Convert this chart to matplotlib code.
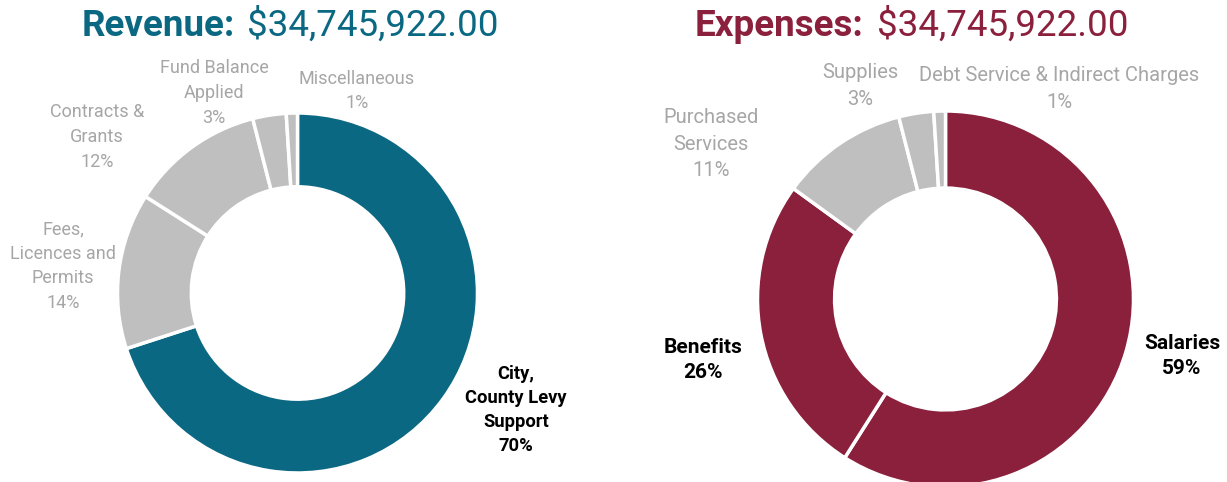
import matplotlib
matplotlib.use("Agg")
import matplotlib.pyplot as plt

# Revenue breakdown (percent of total)
rev_labels = ["City,\nCounty Levy\nSupport", "Fees,\nLicences and\nPermits",
              "Contracts &\nGrants", "Fund Balance\nApplied", "Miscellaneous"]
rev_values = [70, 14, 12, 3, 1]

# Expense breakdown (percent of total)
exp_labels = ["Salaries", "Benefits", "Purchased\nServices", "Supplies",
              "Debt Service & Indirect Charges"]
exp_values = [59, 26, 11, 3, 1]

total_amount = "$34,745,922.00"

TEAL = "#0B6882"
MAROON = "#8B203D"
GRAY = "#BFBFBF"
LABEL_GRAY = "#A6A6A6"

plt.rcParams["font.family"] = ["Roboto", "DejaVu Sans"]

W, H = 1227, 482
fig = plt.figure(figsize=(W / 100, H / 100), dpi=100)
ax = fig.add_axes([0, 0, 1, 1])


def Y(y):
    return H - y


def donut(values, main_colors, center, radius, ring):
    colors = main_colors + [GRAY] * (len(values) - len(main_colors))
    ax.pie(values, colors=colors, startangle=90, counterclock=False,
           center=center, radius=radius, frame=True,
           wedgeprops=dict(width=radius * ring, edgecolor="white", linewidth=2.5))


donut(rev_values, [TEAL], (297.5, Y(293)), 180, 0.41)
donut(exp_values, [MAROON, MAROON], (945.5, Y(299)), 188, 0.41)
ax.set_xlim(0, W)
ax.set_ylim(0, H)
ax.set_aspect("equal")
ax.axis("off")

# Titles
ax.text(82, Y(26), "Revenue:", color=TEAL, fontsize=26.5, fontweight="bold",
        ha="left", va="center")
ax.text(247, Y(26), total_amount, color=TEAL, fontsize=26.5, ha="left", va="center")
ax.text(695, Y(26), "Expenses:", color=MAROON, fontsize=26.5, fontweight="bold",
        ha="left", va="center")
ax.text(877, Y(26), total_amount, color=MAROON, fontsize=26.5, ha="left", va="center")


def label(x, y, name, value, bold=False, size=13, ls=1.47):
    ax.text(x, Y(y), f"{name}\n{value}%", ha="center", va="center",
            fontsize=size, linespacing=ls,
            color="black" if bold else LABEL_GRAY,
            fontweight="bold" if bold else "normal")


# Revenue labels
label(516, 410, rev_labels[0], rev_values[0], bold=True, size=13.2, ls=1.42)
label(63, 266, rev_labels[1], rev_values[1])
label(97, 137, rev_labels[2], rev_values[2])
label(214, 93, rev_labels[3], rev_values[3])
label(357, 91, rev_labels[4], rev_values[4])

# Expense labels
label(1182, 356, exp_labels[0], exp_values[0], bold=True, size=15, ls=1.41)
label(703, 360, exp_labels[1], exp_values[1], bold=True, size=15, ls=1.41)
label(711, 144, exp_labels[2], exp_values[2], size=14.5, ls=1.47)
label(860, 86, exp_labels[3], exp_values[3], size=14.5, ls=1.47)
label(1059, 89, exp_labels[4], exp_values[4], size=14.5, ls=1.47)

fig.savefig("out.png", dpi=100)
